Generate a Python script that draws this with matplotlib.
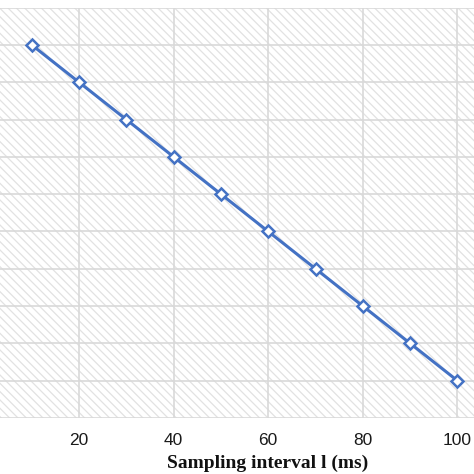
import matplotlib
matplotlib.use("Agg")
import matplotlib.pyplot as plt
from matplotlib.patches import Rectangle

x_values = [10, 20, 30, 40, 50, 60, 70, 80, 90, 100]
y_values = [10, 9, 8, 7, 6, 5, 4, 3, 2, 1]
x_ticks = [20, 40, 60, 80, 100]
x_label = "Sampling interval l (ms)"

plt.rcParams['hatch.color'] = '#e2e2e2'
plt.rcParams['hatch.linewidth'] = 0.9

fig = plt.figure(figsize=(4.74, 4.74), dpi=100)
ax = fig.add_axes([0, 1 - 418 / 474, 1, (418 - 7.6) / 474])
ax.set_xlim(3.3, 103.5)
ax.set_ylim(0, 11)

bg = Rectangle((0, 0), 1, 1, transform=ax.transAxes, facecolor='white',
               edgecolor='#e2e2e2', hatch='\\' * 4, lw=0, zorder=0)
ax.add_patch(bg)

ax.set_xticks(x_ticks)
ax.set_yticks(range(0, 12))
ax.set_yticklabels([])
ax.grid(True, color='#d9d9d9', lw=1.2, zorder=1)
ax.set_axisbelow(True)
for s in ax.spines.values():
    s.set_visible(False)
ax.tick_params(axis='both', length=0)
ax.tick_params(axis='x', pad=11, labelsize=12.5, labelcolor='#1a1a1a')
for lbl in ax.get_xticklabels():
    lbl.set_fontfamily('Liberation Sans')

ax.plot(x_values, y_values, color='#4472C4', lw=2.2, marker='D', markersize=6.5,
        markerfacecolor='white', markeredgecolor='#4472C4', markeredgewidth=1.8,
        zorder=3, clip_on=False)

fig.text(267.5 / 474, 1 - 468 / 474, x_label, ha='center', va='baseline',
         fontsize=14, fontweight='bold', family='Liberation Serif', color='#111111')

fig.savefig('out.png', dpi=100)
